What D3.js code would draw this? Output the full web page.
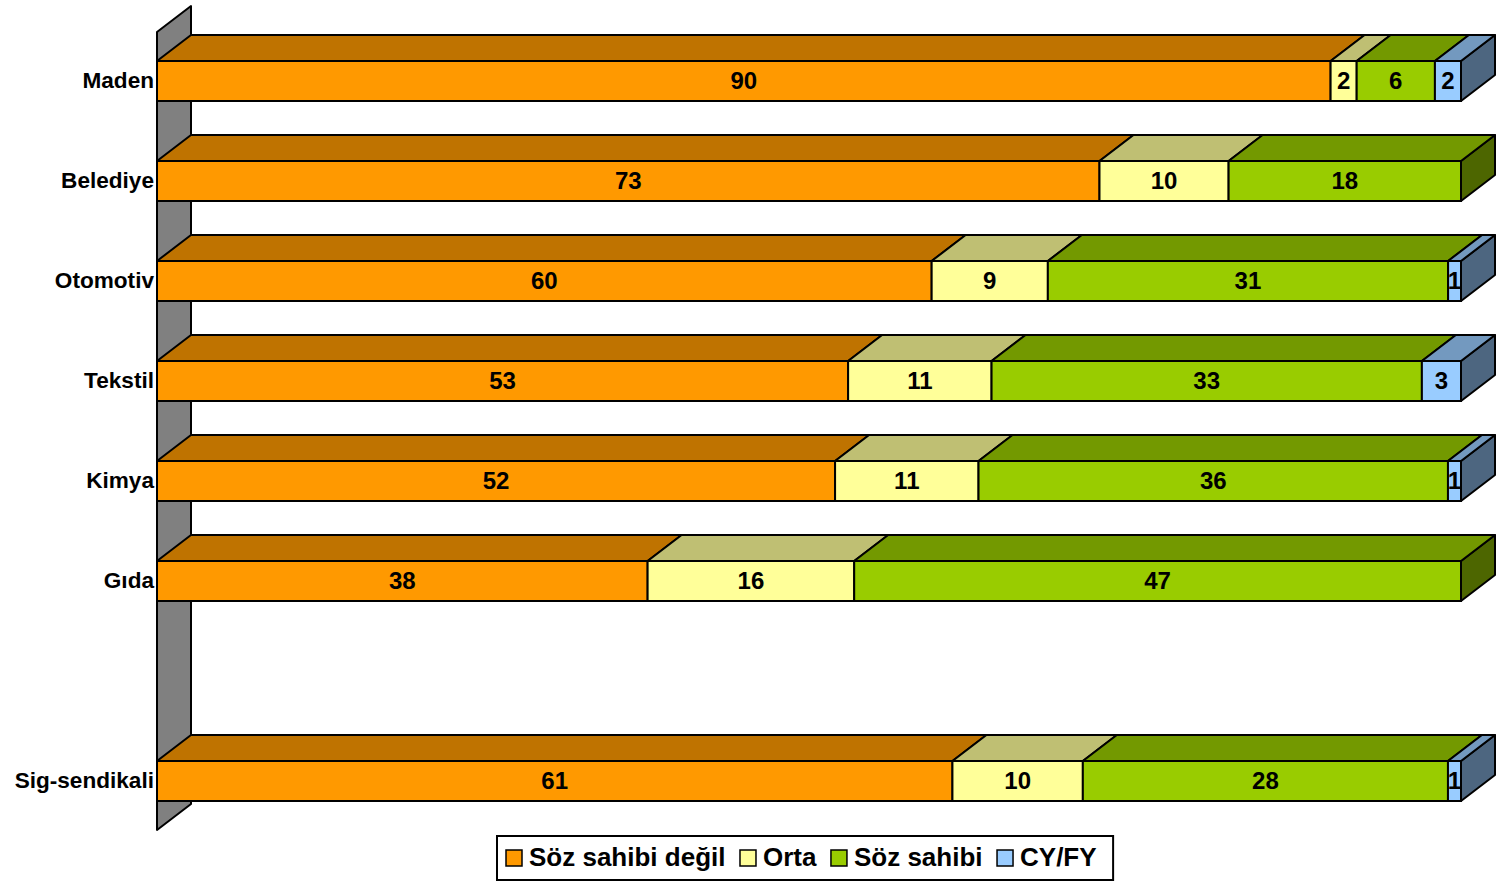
<!DOCTYPE html>
<html>
<head>
<meta charset="utf-8">
<script src="https://cdn.jsdelivr.net/npm/d3@7"></script>
<style>
  html, body { margin: 0; padding: 0; background: #ffffff; }
  svg { display: block; font-family: "Liberation Sans", Arial, Helvetica, sans-serif; font-weight: bold; }
</style>
</head>
<body>
<svg id="chart" width="1506" height="881"></svg>
<script>
// Sectors (an empty slot separates the sectors from the overall figure)
const categories = ["Maden", "Belediye", "Otomotiv", "Tekstil", "Kimya", "Gıda", "", "Sig-sendikali"];

// Share of answers per sector, in percent
const sozSahibiDegil = [90, 73, 60, 53, 52, 38, null, 61];
const orta           = [2, 10, 9, 11, 11, 16, null, 10];
const sozSahibi      = [6, 18, 31, 33, 36, 47, null, 28];
const cyFy           = [2, 0, 1, 3, 1, 0, null, 1];

const seriesNames  = ["Söz sahibi değil", "Orta", "Söz sahibi", "CY/FY"];
const seriesValues = [sozSahibiDegil, orta, sozSahibi, cyFy];
const seriesColors = ["#FF9900", "#FFFF99", "#99CC00", "#99CCFF"];

const svg = d3.select("#chart");

// 3D depth offset of the boxes
const DX = 34, DY = 26;

const x = d3.scaleLinear().domain([0, 100]).range([157, 1461]);
const y = d3.scaleBand()
  .domain(d3.range(categories.length))
  .range([31, 831])
  .paddingInner(0.6)
  .paddingOuter(0.3);

const shade = (c, k) => {
  const r = d3.rgb(c);
  return d3.rgb(r.r * k, r.g * k, r.b * k).formatHex();
};

// Left wall
const wx = x(0), [r0, r1] = y.range();
svg.append("path")
  .attr("d", `M${wx},${r0 + 1} L${wx + DX},${r0 + 1 - DY} L${wx + DX},${r1 - 1 - DY} L${wx},${r1 - 1} Z`)
  .attr("fill", "#808080")
  .attr("stroke", "#000")
  .attr("stroke-width", 2)
  .attr("stroke-linejoin", "round");

// Rows normalised to 100 %
const rows = categories.map((cat, i) => {
  const vals = seriesValues.map(s => s[i]);
  if (vals.some(v => v == null)) return null;
  const total = d3.sum(vals);
  let acc = 0;
  const segs = vals.map((v, k) => {
    const seg = { k, v, x0: acc / total * 100, x1: (acc + v) / total * 100 };
    acc += v;
    return seg;
  }).filter(s => s.v > 0);
  return { i, cat, segs };
}).filter(Boolean);

const bars = svg.append("g");
rows.forEach(row => {
  const g = bars.append("g");
  const top = y(row.i), bh = y.bandwidth();
  row.segs.forEach(s => {
    const xa = x(s.x0), xb = x(s.x1);
    const col = seriesColors[s.k];
    // right side
    g.append("path")
      .attr("d", `M${xb},${top} L${xb + DX},${top - DY} L${xb + DX},${top + bh - DY} L${xb},${top + bh} Z`)
      .attr("fill", shade(col, 0.5))
      .attr("stroke", "#000").attr("stroke-width", 2).attr("stroke-linejoin", "round");
    // top face
    g.append("path")
      .attr("d", `M${xa},${top} L${xa + DX},${top - DY} L${xb + DX},${top - DY} L${xb},${top} Z`)
      .attr("fill", shade(col, 0.75))
      .attr("stroke", "#000").attr("stroke-width", 2).attr("stroke-linejoin", "round");
    // front face
    g.append("rect")
      .attr("x", xa).attr("y", top)
      .attr("width", xb - xa).attr("height", bh)
      .attr("fill", col)
      .attr("stroke", "#000").attr("stroke-width", 2);
  });
  // value labels
  row.segs.forEach(s => {
    g.append("text")
      .attr("x", (x(s.x0) + x(s.x1)) / 2)
      .attr("y", top + bh / 2 - 1)
      .attr("dy", "0.36em")
      .attr("text-anchor", "middle")
      .attr("font-size", 24)
      .attr("fill", "#000")
      .text(s.v);
  });
});

// Category labels
svg.append("g").selectAll("text")
  .data(categories.map((c, i) => ({ c, i })).filter(d => d.c))
  .join("text")
  .attr("x", x(0) - 3)
  .attr("y", d => y(d.i) + y.bandwidth() / 2 - 1)
  .attr("dy", "0.36em")
  .attr("text-anchor", "end")
  .attr("font-size", 22.6)
  .attr("fill", "#000")
  .text(d => d.c);

// Legend
const legend = svg.append("g");
const lgX = 497, lgY = 836, lgH = 44;
const frame = legend.append("rect")
  .attr("x", lgX).attr("y", lgY).attr("height", lgH)
  .attr("fill", "#fff").attr("stroke", "#000").attr("stroke-width", 2);
let cx = lgX + 9;
seriesNames.forEach((name, k) => {
  legend.append("rect")
    .attr("x", cx).attr("y", lgY + lgH / 2 - 8)
    .attr("width", 16).attr("height", 16)
    .attr("fill", seriesColors[k])
    .attr("stroke", "#000").attr("stroke-width", 1.5);
  const t = legend.append("text")
    .attr("x", cx + 23).attr("y", lgY + lgH / 2 - 1)
    .attr("dy", "0.36em")
    .attr("font-size", 26)
    .attr("fill", "#000")
    .text(name);
  cx += 23 + t.node().getComputedTextLength() + 14.5;
});
frame.attr("width", cx - lgX + 2);
</script>
</body>
</html>
